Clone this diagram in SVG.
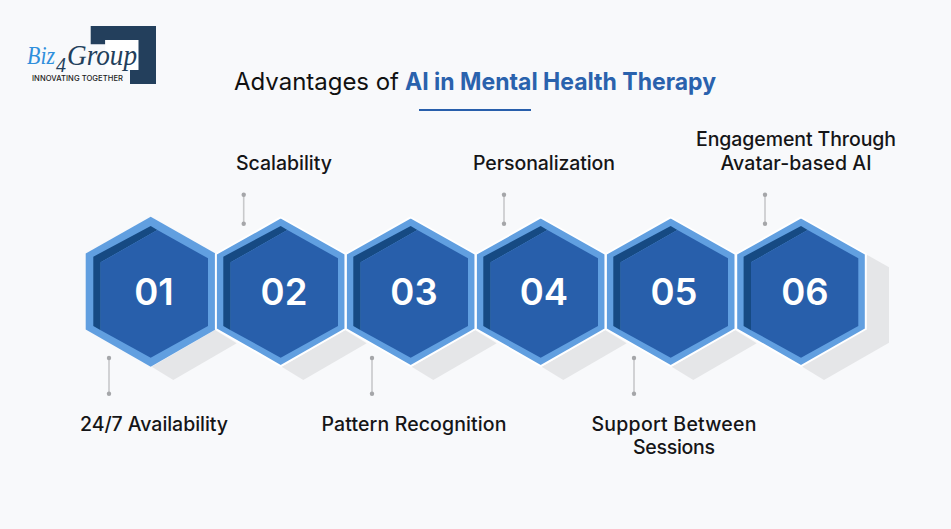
<svg xmlns="http://www.w3.org/2000/svg" width="951" height="529" viewBox="0 0 951 529">
<style>
text{font-family:"Inter","Liberation Sans",sans-serif;}
.lbl{font-size:19.5px;font-weight:500;fill:#151517;text-anchor:middle;}
.num{font-size:36.5px;font-weight:600;fill:#fff;text-anchor:middle;}
.sh{fill:#e5e6e8;}
.o{fill:#619fe0;}
.w{stroke:#fff;stroke-width:2;}
.d{fill:#164a83;}
.m{fill:#285fab;}
.c{stroke:#c8c9cb;stroke-width:1.6;fill:none;}
.p{fill:#a5a6a9;}
.ls{font-family:"Liberation Serif",serif;font-style:italic;}
</style>
<defs>
<g id="hex">
<polygon class="d" points="-57.4,-35 0,-65.7 6.7,-61.7 -50,-29.4 -50,38.5 -57.4,34.3"/>
<polygon class="m" points="-50,-29.4 6.7,-61.7 57.3,-33.4 57.3,34.3 0,66 -50,38.5"/>
</g>
</defs>
<rect width="951" height="529" fill="#f8f9fb"/>
<g id="logo">
<polygon points="90.700,26 156,26 156,84 130,84 130,70 138.300,70 138.300,40 105.300,40 105.300,44.300 90.700,44.300" fill="#233f5c"/>
<rect x="105.300" y="40" width="33" height="30" fill="#fff"/>
<text class="ls" x="27" y="63.500" font-size="26" fill="#2f8fdc" textLength="28" lengthAdjust="spacingAndGlyphs">Biz</text>
<text class="ls" x="56" y="72" font-size="20" fill="#233f5c">4</text>
<text class="ls" x="67" y="65" font-size="29" fill="#233f5c" textLength="70" lengthAdjust="spacingAndGlyphs">Group</text>
<text x="32" y="80.500" font-size="7.600" font-weight="500" fill="#222" textLength="91">INNOVATING TOGETHER</text>
</g>
<g id="title">
<text x="234" y="90" font-size="24" font-weight="400" fill="#111" textLength="165">Advantages of</text>
<text x="405" y="90" font-size="24" font-weight="700" fill="#2a62ad" textLength="311" lengthAdjust="spacingAndGlyphs">AI in Mental Health Therapy</text>
<rect x="419" y="109" width="112" height="2" fill="#285fab"/>
</g>
<g id="connectors">
<path class="c" d="M109 358V394M243.700 194V224M372 358V394M504 195V224M634 358V394M765 195V224"/>
<g class="p"><circle cx="109" cy="358" r="2.200"/><circle cx="109" cy="393.700" r="2.200"/><circle cx="243.700" cy="194.700" r="2.200"/><circle cx="243.700" cy="223.700" r="2.200"/><circle cx="372" cy="358" r="2.200"/><circle cx="372" cy="393.700" r="2.200"/><circle cx="504" cy="194.700" r="2.200"/><circle cx="504" cy="223.700" r="2.200"/><circle cx="634" cy="358" r="2.200"/><circle cx="634" cy="393.700" r="2.200"/><circle cx="765" cy="194.700" r="2.200"/><circle cx="765" cy="223.700" r="2.200"/></g>
</g>
<g id="shadows">
<polygon class="sh" points="151.700,366.700 173.300,380 236.700,343.300 215,330"/>
<polygon class="sh" points="281.700,366.700 303.300,380 366.700,343.300 345,330"/>
<polygon class="sh" points="411.700,366.700 433.300,380 496.700,343.300 475,330"/>
<polygon class="sh" points="541.700,366.700 563.300,380 626.700,343.300 605,330"/>
<polygon class="sh" points="671.700,366.700 693.300,380 756.700,343.300 735,330"/>
<polygon class="sh" points="867.300,255 889,267.300 889,342.700 824,380 802.300,366.700"/>
</g>
<g id="node-01"><polygon class="o" points="150.700,216.700 215.500,253.500 215.500,329.500 150.700,366.700 85.700,329.500 85.700,253.500"/>
<use href="#hex" x="150.700" y="291.700"/><text class="num" x="154" y="305">01</text></g>
<g id="node-02"><polygon class="o w" points="280.700,217.500 345.500,254 345.500,329 280.700,366 215.900,329 215.900,254"/>
<use href="#hex" x="280.700" y="291.700"/><text class="num" x="284" y="305">02</text></g>
<g id="node-03"><polygon class="o w" points="410.700,217.500 475.500,254 475.500,329 410.700,366 345.900,329 345.900,254"/>
<use href="#hex" x="410.700" y="291.700"/><text class="num" x="414" y="305">03</text></g>
<g id="node-04"><polygon class="o w" points="540.700,217.500 605.500,254 605.500,329 540.700,366 475.900,329 475.900,254"/>
<use href="#hex" x="540.700" y="291.700"/><text class="num" x="544" y="305">04</text></g>
<g id="node-05"><polygon class="o w" points="670.700,217.500 735.500,254 735.500,329 670.700,366 605.900,329 605.900,254"/>
<use href="#hex" x="670.700" y="291.700"/><text class="num" x="674" y="305">05</text></g>
<g id="node-06"><polygon class="o w" points="801,217.500 865.800,254 865.800,329 801,366 736.200,329 736.200,254"/>
<use href="#hex" x="801" y="291.700"/><text class="num" x="805" y="305">06</text></g>
<g id="labels">
<text class="lbl" x="284" y="170" textLength="96">Scalability</text>
<text class="lbl" x="544" y="170" textLength="142">Personalization</text>
<text class="lbl" x="796" y="146" textLength="200">Engagement Through</text>
<text class="lbl" x="796" y="170" textLength="151">Avatar-based AI</text>
<text class="lbl" x="154" y="431" textLength="148">24/7 Availability</text>
<text class="lbl" x="414" y="431" textLength="185">Pattern Recognition</text>
<text class="lbl" x="674" y="431" textLength="165">Support Between</text>
<text class="lbl" x="674" y="454" textLength="82">Sessions</text>
</g>
</svg>
